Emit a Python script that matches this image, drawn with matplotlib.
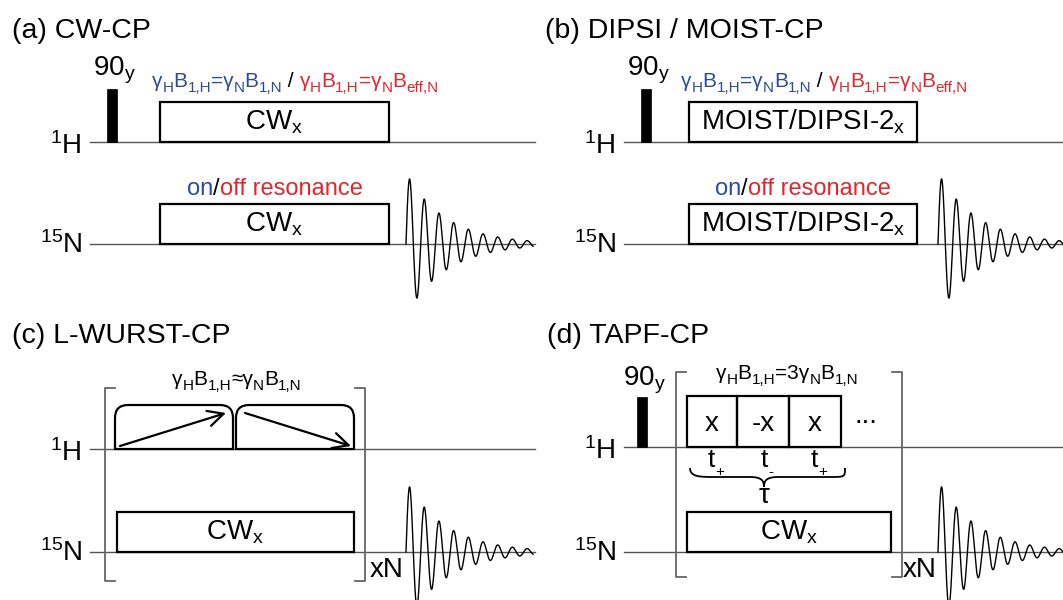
import numpy as np
import matplotlib
matplotlib.use('Agg')
import matplotlib.pyplot as plt
from matplotlib.patches import Rectangle, PathPatch
from matplotlib.path import Path

plt.rcParams['font.family'] = 'Liberation Sans'
plt.rcParams['mathtext.fontset'] = 'custom'
plt.rcParams['mathtext.rm'] = 'Liberation Sans'
plt.rcParams['mathtext.default'] = 'regular'

BLUE = '#2c4b9c'
RED = '#e3262b'
GREY = '#555555'

# texts (second item: 1 = subscript)
titles = ['(a) CW-CP', '(b) DIPSI / MOIST-CP', '(c) L-WURST-CP', '(d) TAPF-CP']
match_on = [('γ', 0), ('H', 1), ('B', 0), ('1,H', 1), ('=γ', 0), ('N', 1),
            ('B', 0), ('1,N', 1)]
match_off = [('γ', 0), ('H', 1), ('B', 0), ('1,H', 1), ('=γ', 0), ('N', 1),
             ('B', 0), ('eff,N', 1)]
match_wurst = [('γ', 0), ('H', 1), ('B', 0), ('1,H', 1), ('≈γ', 0), ('N', 1),
               ('B', 0), ('1,N', 1)]
match_tapf = [('γ', 0), ('H', 1), ('B', 0), ('1,H', 1), ('=3γ', 0), ('N', 1),
              ('B', 0), ('1,N', 1)]
box_labels = ['CW$_x$', 'MOIST/DIPSI-2$_x$']
tapf_phases = ['x', '-x', 'x']
tapf_subs = ['+', '-', '+']

# FID shape
fid_period = 14.7
fid_first_peak = 65.0
fid_decay_per_cycle = 0.69

fig = plt.figure(figsize=(10.63, 6.0), dpi=100)
ax = fig.add_axes([0, 0, 1, 1])
ax.set_xlim(0, 1063)
ax.set_ylim(600, 0)
ax.axis('off')
renderer = fig.canvas.get_renderer()


def seq_text(x, y, pieces, ha='left', size=15, sub_size=11, sub_dy=5):
    # pieces: (text, colour, is_sub)
    arts = []
    cur = x
    for s, c, sub in pieces:
        t = ax.text(cur, y + (sub_dy if sub else 0), s, color=c,
                    fontsize=sub_size if sub else size, va='baseline', ha='left')
        cur += t.get_window_extent(renderer).width
        arts.append(t)
    if ha == 'center':
        shift = (cur - x) / 2
        for t in arts:
            px, py = t.get_position()
            t.set_position((px - shift, py))
    return cur


def colour(pieces, c):
    return [(s, c, sub) for s, sub in pieces]


def box(x0, x1, ytop, ybot, label=None, lab_y=None, size=20):
    ax.add_patch(Rectangle((x0, ytop), x1 - x0, ybot - ytop, fill=False,
                           ec='black', lw=1.6, zorder=3))
    if label is not None:
        ax.text((x0 + x1) / 2, lab_y, label, fontsize=size, ha='center',
                va='baseline')


def pulse(x0, ytop, ybot, width=10):
    ax.add_patch(Rectangle((x0, ytop), width, ybot - ytop, fc='black',
                           ec='black', lw=0.5, zorder=3))


def channel(x0, x1, y, label, sup):
    ax.plot([x0, x1], [y, y], color=GREY, lw=1.0, zorder=1)
    off = 12 if label == 'H' else 9
    ax.text(x0 - 8, y + off, '$^{%s}$%s' % (sup, label), fontsize=20,
            ha='right', va='baseline')


def fid(x0, y0, length):
    t = np.linspace(0, length, 800)
    k = -np.log(fid_decay_per_cycle) / fid_period
    env = fid_first_peak * np.exp(-(t - fid_period / 4) * k)
    y = env * np.sin(2 * np.pi * t / fid_period)
    ax.plot(x0 + t, y0 - y, color='black', lw=1.0, zorder=2)


def bracket(xl, xr, ytop, ybot, serif=10):
    kw = dict(color='#666666', lw=1.3, zorder=2)
    ax.plot([xl + serif, xl, xl, xl + serif], [ytop, ytop, ybot, ybot], **kw)
    ax.plot([xr - serif, xr, xr, xr - serif], [ytop, ytop, ybot, ybot], **kw)


def wurst(x0, x1, ytop, ybot, r=13):
    verts = [(x0, ybot), (x0, ytop + r), (x0, ytop), (x0 + r, ytop),
             (x1 - r, ytop), (x1, ytop), (x1, ytop + r), (x1, ybot), (x0, ybot)]
    codes = [Path.MOVETO, Path.LINETO, Path.CURVE3, Path.CURVE3, Path.LINETO,
             Path.CURVE3, Path.CURVE3, Path.LINETO, Path.CLOSEPOLY]
    ax.add_patch(PathPatch(Path(verts, codes), fill=False, ec='black',
                           lw=1.6, zorder=3))


def arrow(p0, p1):
    ax.annotate('', xy=p1, xytext=p0,
                arrowprops=dict(arrowstyle='->', lw=1.6, color='black',
                                mutation_scale=28, shrinkA=0, shrinkB=0))


# ---------------- (a) and (b) ----------------
for dx, lab, title, p90x, tx in [(0, box_labels[0], titles[0], 107, 93),
                                 (530, box_labels[1], titles[1], 641, 627)]:
    ax.text(12 + dx * 1.005, 38, title, fontsize=20.5, va='baseline')
    xs = 90 if dx == 0 else 624
    xe = 535 if dx == 0 else 1063
    channel(xs, xe, 142, 'H', '1')
    channel(xs, xe, 244, 'N', '15')
    pulse(p90x, 89, 142)
    ax.text(tx, 76, '90$_y$', fontsize=20, va='baseline')
    bx0, bx1 = (160, 389) if dx == 0 else (689, 917)
    box(bx0, bx1, 102, 142, lab, 130)
    box(bx0, bx1, 204, 244, lab, 232)
    seq_text(bx0 - 8, 87, colour(match_on, BLUE) + [(' / ', 'black', 0)]
             + colour(match_off, RED))
    seq_text((bx0 + bx1) / 2, 195, [('on', BLUE, 0), ('/', 'black', 0),
                                    ('off resonance', RED, 0)],
             ha='center', size=17)
    fid(bx1 + 17 if dx == 0 else bx1 + 21, 244, 127)

# ---------------- (c) ----------------
ax.text(12, 343, titles[2], fontsize=20.5, va='baseline')
channel(90, 535, 449, 'H', '1')
channel(90, 535, 552, 'N', '15')
bracket(105, 365, 388, 581)
seq_text(237, 385, colour(match_wurst, 'black'), ha='center')
wurst(115, 233, 405, 449)
wurst(236, 354, 405, 449)
arrow((120, 446), (226, 413))
arrow((245, 413), (351, 446))
box(117, 354, 512, 552, box_labels[0], 540)
ax.text(370, 577, 'xN', fontsize=20, va='baseline')
fid(406, 552, 127)

# ---------------- (d) ----------------
ax.text(547, 343, titles[3], fontsize=20.5, va='baseline')
channel(624, 1063, 447, 'H', '1')
channel(624, 1063, 552, 'N', '15')
bracket(676, 902, 372, 577)
pulse(637, 397, 447)
ax.text(623, 386, '90$_y$', fontsize=20, va='baseline')
seq_text(787, 379, colour(match_tapf, 'black'), ha='center')
edges = [687, 737, 789, 841]
for i, ph in enumerate(tapf_phases):
    box(edges[i], edges[i + 1], 396, 447, ph, 431)
    cx = (edges[i] + edges[i + 1]) / 2
    seq_text(cx + 4, 467, [('t', 'black', 0), (tapf_subs[i], 'black', 1)],
             ha='center', size=19, sub_size=11, sub_dy=9)
ax.text(866, 423, '...', fontsize=20, ha='center', va='baseline')
# brace
mid = (edges[0] + edges[-1]) / 2
bv = [(690, 468), (690, 477), (700, 477), (715, 477), (mid - 14, 477),
      (mid - 2, 477), (mid, 481), (mid, 487), (mid, 481), (mid + 2, 477),
      (mid + 14, 477), (edges[-1] - 11, 477), (edges[-1] + 4, 477),
      (edges[-1] + 4, 477), (edges[-1] + 4, 468)]
bc = [Path.MOVETO, Path.CURVE4, Path.CURVE4, Path.CURVE4, Path.LINETO,
      Path.CURVE4, Path.CURVE4, Path.CURVE4, Path.CURVE4, Path.CURVE4,
      Path.CURVE4, Path.LINETO, Path.CURVE4, Path.CURVE4, Path.CURVE4]
ax.add_patch(PathPatch(Path(bv, bc), fill=False, ec='black', lw=1.3))
ax.text(mid, 503, 'τ', fontsize=20, ha='center', va='baseline')
box(687, 891, 512, 552, box_labels[0], 540)
ax.text(903, 577, 'xN', fontsize=20, va='baseline')
fid(938, 552, 125)

fig.savefig('out.png', dpi=100)
